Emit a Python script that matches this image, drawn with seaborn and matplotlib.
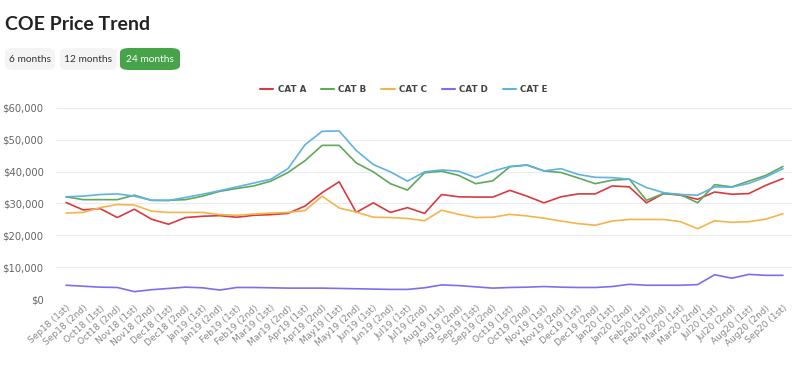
import pandas as pd
import numpy as np
import matplotlib.pyplot as plt
import seaborn as sns
from matplotlib.patches import FancyBboxPatch
from matplotlib.ticker import FuncFormatter

# bidding rounds shown on the x axis
rounds = ["Sep18 (1st)", "Sep18 (2nd)", "Oct18 (1st)", "Oct18 (2nd)", "Nov18 (1st)", "Nov18 (2nd)",
          "Dec18 (1st)", "Dec18 (2nd)", "Jan19 (1st)", "Jan19 (2nd)", "Feb19 (1st)", "Feb19 (2nd)",
          "Mar19 (1st)", "Mar19 (2nd)", "Apr19 (1st)", "Apr19 (2nd)", "May19 (1st)", "May19 (2nd)",
          "Jun19 (1st)", "Jun19 (2nd)", "Jul19 (1st)", "Jul19 (2nd)", "Aug19 (1st)", "Aug19 (2nd)",
          "Sep19 (1st)", "Sep19 (2nd)", "Oct19 (1st)", "Oct19 (2nd)", "Nov19 (1st)", "Nov19 (2nd)",
          "Dec19 (1st)", "Dec19 (2nd)", "Jan20 (1st)", "Jan20 (2nd)", "Feb20 (1st)", "Feb20 (2nd)",
          "Mar20 (1st)", "Mar20 (2nd)", "Jul20 (1st)", "Jul20 (2nd)", "Aug20 (1st)", "Aug20 (2nd)",
          "Sep20 (1st)"]

# COE premiums (in $)
cat_a = [30300, 28000, 28400, 25600, 28200, 25100, 23500, 25600, 26000, 26200, 25700, 26300,
         26500, 26900, 29200, 33400, 36800, 27200, 30200, 27200, 28700, 26900, 32800, 32100,
         32000, 32000, 34100, 32300, 30200, 32100, 33000, 33000, 35500, 35200, 30200, 33100,
         32600, 31300, 33600, 32900, 33100, 35700, 37800]
cat_b = [32100, 31200, 31200, 31200, 32600, 31000, 31000, 31200, 32300, 33800, 34700, 35500,
         37000, 39700, 43400, 48200, 48200, 42700, 39900, 36200, 34200, 39600, 40100, 38800,
         36200, 37100, 41500, 42000, 40200, 39700, 38000, 36200, 37300, 37600, 31000, 33100,
         32800, 30200, 35900, 35200, 37000, 38800, 41600]
cat_c = [27000, 27200, 28700, 29700, 29500, 27600, 27200, 27200, 27200, 26500, 26300, 26700,
         27000, 27200, 27800, 32300, 28600, 27300, 25700, 25600, 25300, 24600, 27900, 26600,
         25600, 25700, 26600, 26100, 25400, 24500, 23700, 23200, 24500, 25000, 25000, 25000,
         24300, 22100, 24600, 24100, 24300, 25100, 26800]
cat_d = [4400, 4100, 3800, 3700, 2400, 3000, 3400, 3800, 3600, 2900, 3700, 3700,
         3600, 3500, 3500, 3500, 3400, 3300, 3200, 3100, 3100, 3600, 4500, 4300,
         3900, 3500, 3700, 3800, 4000, 3800, 3700, 3700, 4000, 4700, 4400, 4400,
         4400, 4600, 7700, 6600, 7800, 7500, 7500]
cat_e = [32100, 32300, 32800, 33000, 32300, 31000, 30900, 31900, 32900, 34000, 35200, 36400,
         37600, 40900, 48400, 52600, 52700, 46600, 42200, 39900, 37000, 39900, 40500, 40100,
         38100, 40100, 41600, 42100, 40200, 40900, 39100, 38200, 38100, 37600, 35000, 33400,
         32800, 32600, 35200, 35100, 36300, 38300, 40900]

categories = ["CAT A", "CAT B", "CAT C", "CAT D", "CAT E"]
colours = ["#d83a3f", "#5ea95a", "#f4b44c", "#7b6ff0", "#5fb2e2"]

# long format for seaborn
frames = []
for name, vals in zip(categories, [cat_a, cat_b, cat_c, cat_d, cat_e]):
    frames.append(pd.DataFrame({"idx": range(len(rounds)), "price": vals, "cat": name}))
df = pd.concat(frames, ignore_index=True)

sns.set_style("white")
plt.rcParams['font.family'] = ['DejaVu Sans']

fig = plt.figure(figsize=(8, 3.65), dpi=100)
ax = fig.add_axes([0.07, 0.18, 0.92, 0.525])

sns.lineplot(data=df, x="idx", y="price", hue="cat", palette=dict(zip(categories, colours)),
             linewidth=1.2, ax=ax, legend=False, sort=False)

ax.set_xlim(-0.59, 42.53)
ax.set_ylim(0, 60000)
ax.set_yticks(range(0, 60001, 10000))
ax.yaxis.set_major_formatter(FuncFormatter(lambda v, p: "${:,.0f}".format(v)))
ax.set_xticks(range(len(rounds)))
ax.set_xticklabels(rounds, rotation=42, ha="right", rotation_mode="anchor", fontsize=6.5, color="#888888")
ax.tick_params(axis="y", labelsize=7.2, labelcolor="#666666", length=0, pad=9)
ax.tick_params(axis="x", length=0, pad=3)
ax.set_xlabel("")
ax.set_ylabel("")
ax.grid(axis="y", color="#ececf0", linewidth=0.8)
ax.set_axisbelow(True)
for s in ax.spines.values():
    s.set_visible(False)

# legend at the top
handles = [plt.Line2D([0], [0], color=c, lw=1.5) for c in colours]
fig.legend(handles, categories, loc="center", bbox_to_anchor=(0.505, 1 - 90 / 365), ncol=5,
           frameon=False, handlelength=1.5, handletextpad=0.5, columnspacing=1.7,
           labelcolor="#444444", prop={"weight": "bold", "size": 6.3})

# title and period buttons
fig.text(5 / 800, 1 - 24 / 365, "COE Price Trend", fontsize=14, fontweight="bold",
         color="#222222", va="center", ha="left", family=["Lato", "DejaVu Sans"])
buttons = [("6 months", 5, 55, False), ("12 months", 60, 117, False), ("24 months", 120, 180, True)]
for label, x0, x1, active in buttons:
    y0, y1 = 1 - 70 / 365, 1 - 48 / 365
    box = FancyBboxPatch((x0 / 800, y0), (x1 - x0) / 800, y1 - y0,
                         boxstyle="round,pad=0,rounding_size=0.012", transform=fig.transFigure,
                         facecolor="#46a349" if active else "#f4f4f4", edgecolor="none")
    fig.patches.append(box)
    fig.text((x0 + x1) / 2 / 800, (y0 + y1) / 2, label, fontsize=7.3, ha="center", va="center",
             color="white" if active else "#333333", family=["Lato", "DejaVu Sans"])

fig.savefig("out.png", dpi=100)
